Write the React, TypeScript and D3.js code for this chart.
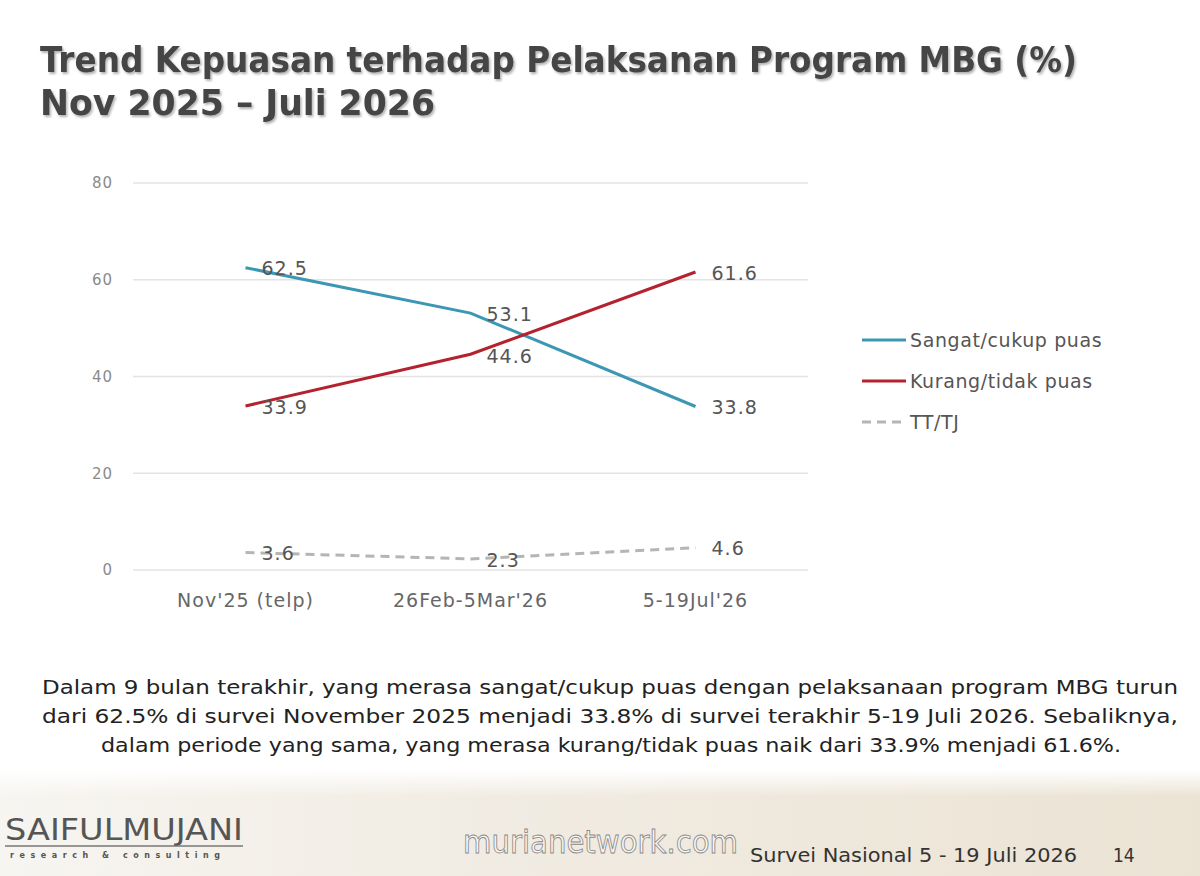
import React from 'react';
import { scaleLinear, scalePoint, line } from 'd3';

const categories = ["Nov'25 (telp)", '26Feb-5Mar\'26', "5-19Jul'26"];
const puas = [62.5, 53.1, 33.8];
const tidakPuas = [33.9, 44.6, 61.6];
const ttTj = [3.6, 2.3, 4.6];
const yTicks = [0, 20, 40, 60, 80];

const seriesNames = ['Sangat/cukup puas', 'Kurang/tidak puas', 'TT/TJ'];
const seriesColors = ['#3b97b3', '#b3222e', '#b5b5b5'];
const seriesData = [puas, tidakPuas, ttTj];

const W = 1200;
const H = 876;
const PLOT = { LEFT: 133, RIGHT: 808, TOP: 183, BOTTOM: 570 };

const descLines = [
  'Dalam 9 bulan terakhir, yang merasa sangat/cukup puas dengan pelaksanaan program MBG turun',
  'dari 62.5% di survei November 2025 menjadi 33.8% di survei terakhir 5-19 Juli 2026. Sebaliknya,',
  'dalam periode yang sama, yang merasa kurang/tidak puas naik dari 33.9% menjadi 61.6%.',
];

export default function App(): JSX.Element {
  const x = scalePoint<string>().domain(categories).range([PLOT.LEFT, PLOT.RIGHT]).padding(0.5);
  const y = scaleLinear().domain([0, 80]).range([PLOT.BOTTOM, PLOT.TOP]);

  const lineGen = line<number>()
    .x((_, i) => x(categories[i]) as number)
    .y((d) => y(d));

  const sans = "'DejaVu Sans', Verdana, sans-serif";
  const cond = "'DejaVu Sans Condensed', 'DejaVu Sans', sans-serif";

  return (
    <svg
      width={W}
      height={H}
      style={{ position: 'absolute', left: 0, top: 0, display: 'block' }}
    >
      <defs>
        <linearGradient id="footH" x1="0" x2="1" y1="0" y2="0">
          <stop offset="0" stopColor="#f7f5f1" />
          <stop offset="0.4" stopColor="#f1ece3" />
          <stop offset="1" stopColor="#ebe3d4" />
        </linearGradient>
        <linearGradient id="footV" x1="0" x2="0" y1="0" y2="1">
          <stop offset="0" stopColor="#ffffff" stopOpacity="1" />
          <stop offset="0.25" stopColor="#ffffff" stopOpacity="0" />
        </linearGradient>
        <filter id="shadow" x="-5%" y="-20%" width="110%" height="150%">
          <feDropShadow dx="1.5" dy="2" stdDeviation="1.2" floodColor="#000" floodOpacity="0.3" />
        </filter>
      </defs>
      <rect x={0} y={0} width={W} height={H} fill="#ffffff" />
      <rect x={0} y={770} width={W} height={H - 770} fill="url(#footH)" />
      <rect x={0} y={770} width={W} height={H - 770} fill="url(#footV)" />

      {/* title */}
      <g fill="#454545" fontFamily={cond} fontWeight="bold" fontSize={35} filter="url(#shadow)">
        <text x={40} y={72} textLength={1037} lengthAdjust="spacingAndGlyphs">
          Trend Kepuasan terhadap Pelaksanan Program MBG (%)
        </text>
        <text x={40} y={115} textLength={395} lengthAdjust="spacingAndGlyphs">
          Nov 2025 – Juli 2026
        </text>
      </g>

      {/* grid + y axis */}
      {yTicks.map((t) => (
        <g key={t}>
          <line x1={PLOT.LEFT} x2={PLOT.RIGHT} y1={y(t)} y2={y(t)} stroke="#e3e3e3" strokeWidth={1.3} />
          <text x={113} y={y(t)} dy="0.35em" textAnchor="end" fill="#8a8a8a" fontFamily={sans} fontSize={15} letterSpacing={1}>
            {t}
          </text>
        </g>
      ))}

      {/* x axis labels */}
      {categories.map((c) => (
        <text key={c} x={x(c)} y={607} textAnchor="middle" fill="#666" fontFamily={sans} fontSize={19} letterSpacing={1}>
          {c}
        </text>
      ))}

      {/* lines */}
      {seriesData.map((d, si) => (
        <path
          key={si}
          d={lineGen(d) || ''}
          fill="none"
          stroke={seriesColors[si]}
          strokeWidth={3}
          strokeDasharray={si === 2 ? '9 6' : undefined}
        />
      ))}

      {/* value labels */}
      {seriesData.map((d, si) =>
        d.map((v, i) => (
          <text
            key={`${si}-${i}`}
            x={(x(categories[i]) as number) + 16}
            y={y(v) + (si === 1 && i === 1 ? 2 : 1)}
            dy="0.35em"
            fill="#555"
            fontFamily={sans}
            fontSize={19}
            letterSpacing={1}
          >
            {v.toFixed(1)}
          </text>
        )),
      )}

      {/* legend */}
      {seriesNames.map((n, i) => (
        <g key={n} transform={`translate(862, ${340 + i * 41})`}>
          <line
            x1={0}
            x2={44}
            y1={0}
            y2={0}
            stroke={seriesColors[i]}
            strokeWidth={3}
            strokeDasharray={i === 2 ? '9 6' : undefined}
          />
          <text x={48} y={0} dy="0.35em" fill="#555" fontFamily={sans} fontSize={19} letterSpacing={0.6}>
            {n}
          </text>
        </g>
      ))}

      {/* description */}
      <g fill="#222" fontFamily={cond} fontSize={20} textAnchor="middle">
        <text x={610} y={694} textLength={1136} lengthAdjust="spacingAndGlyphs">{descLines[0]}</text>
        <text x={610} y={723} textLength={1136} lengthAdjust="spacingAndGlyphs">{descLines[1]}</text>
        <text x={611} y={752} textLength={1020} lengthAdjust="spacingAndGlyphs">{descLines[2]}</text>
      </g>

      {/* footer */}
      <text x={5} y={840} fill="#555" fontFamily={cond} fontSize={30} textLength={238} lengthAdjust="spacingAndGlyphs">
        SAIFULMUJANI
      </text>
      <line x1={5} x2={243} y1={846} y2={846} stroke="#777" strokeWidth={1.5} />
      <text x={10} y={858} fill="#555" fontFamily={sans} fontSize={8} fontWeight="bold" textLength={210} lengthAdjust="spacing">
        research &amp; consulting
      </text>
      <text
        x={463}
        y={853}
        fill="#ffffff"
        fillOpacity={0.6}
        stroke="#888"
        strokeWidth={0.8}
        fontFamily={cond}
        fontSize={32}
        textLength={275}
        lengthAdjust="spacingAndGlyphs"
      >
        murianetwork.com
      </text>
      <text x={750} y={862} fill="#333" fontFamily={cond} fontSize={19} textLength={327} lengthAdjust="spacingAndGlyphs">
        Survei Nasional 5 - 19 Juli 2026
      </text>
      <text x={1113} y={862} fill="#333" fontFamily={cond} fontSize={19}>
        14
      </text>
    </svg>
  );
}
